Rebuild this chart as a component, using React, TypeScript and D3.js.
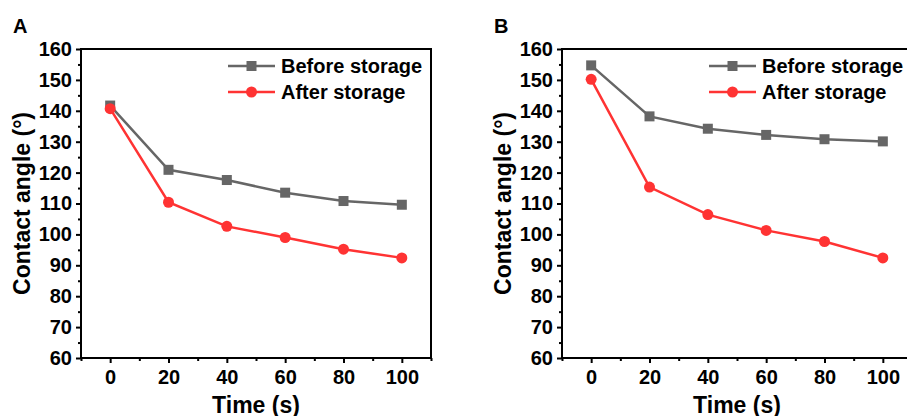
import React, { useEffect, useRef } from "react";
import * as d3 from "d3";

const times = [0, 20, 40, 60, 80, 100];
const beforeA = [141.7, 120.9, 117.6, 113.5, 110.8, 109.6];
const afterA = [140.7, 110.4, 102.6, 99.0, 95.2, 92.4];
const beforeB = [154.7, 138.2, 134.2, 132.2, 130.8, 130.1];
const afterB = [150.2, 115.3, 106.4, 101.3, 97.7, 92.4];
const yTicks = [60, 70, 80, 90, 100, 110, 120, 130, 140, 150, 160];
const seriesNames = ["Before storage", "After storage"];

const GRAY = "#666666";
const RED = "#ff3333";
const FONT = "'Liberation Sans', Arial, sans-serif";

function drawPanel(g, left, label, before, after) {
    // plot area
    var top = 49, bottom = 358, w = 350;
    var x = d3.scaleLinear().domain([-10, 110]).range([left, left + w]);
    var y = d3.scaleLinear().domain([60, 160]).range([bottom, top]);

    var panel = g.append("g");

    // frame
    panel.append("rect")
        .attr("x", left).attr("y", top)
        .attr("width", w).attr("height", bottom - top)
        .attr("fill", "none").attr("stroke", "#000").attr("stroke-width", 2);

    // x axis
    var xAxis = panel.append("g").attr("transform", `translate(0, ${bottom})`)
        .call(d3.axisBottom(x).tickValues(times).tickSize(5).tickPadding(7));
    xAxis.select(".domain").remove();
    xAxis.selectAll("line").attr("stroke-width", 2);
    xAxis.selectAll("text").style("font-family", FONT).style("font-size", "20px")
        .style("font-weight", "bold").attr("fill", "#000");
    panel.append("g").attr("transform", `translate(0, ${bottom})`)
        .call(d3.axisBottom(x).tickValues([-10, 10, 30, 50, 70, 90, 110]).tickSize(3).tickFormat(() => ""))
        .call(s => s.select(".domain").remove())
        .selectAll("line").attr("stroke-width", 2);

    // y axis
    var yAxis = panel.append("g").attr("transform", `translate(${left}, 0)`)
        .call(d3.axisLeft(y).tickValues(yTicks).tickSize(5).tickPadding(4));
    yAxis.select(".domain").remove();
    yAxis.selectAll("line").attr("stroke-width", 2);
    yAxis.selectAll("text").style("font-family", FONT).style("font-size", "20px")
        .style("font-weight", "bold").attr("fill", "#000");
    panel.append("g").attr("transform", `translate(${left}, 0)`)
        .call(d3.axisLeft(y).tickValues(d3.range(65, 160, 10)).tickSize(3).tickFormat(() => ""))
        .call(s => s.select(".domain").remove())
        .selectAll("line").attr("stroke-width", 2);

    // axis titles
    panel.append("text")
        .attr("x", (left + left + w) / 2).attr("y", 413)
        .attr("text-anchor", "middle")
        .style("font-family", FONT).style("font-size", "23px").style("font-weight", "bold")
        .text("Time (s)");
    panel.append("text")
        .attr("transform", `translate(${left - 51}, ${(top + bottom) / 2}) rotate(-90)`)
        .attr("text-anchor", "middle")
        .style("font-family", FONT).style("font-size", "23px").style("font-weight", "bold")
        .text("Contact angle (°)");

    // panel letter
    panel.append("text")
        .attr("x", left - 68).attr("y", 33)
        .style("font-family", FONT).style("font-size", "20px").style("font-weight", "bold")
        .text(label);

    var line = d3.line().x((d, i) => x(times[i])).y(d => y(d));

    // before storage
    panel.append("path").datum(before).attr("d", line)
        .attr("fill", "none").attr("stroke", GRAY).attr("stroke-width", 2.5);
    panel.selectAll(".sq").data(before).join("rect").attr("class", "sq")
        .attr("x", (d, i) => x(times[i]) - 5).attr("y", d => y(d) - 5)
        .attr("width", 10).attr("height", 10).attr("fill", GRAY);

    // after storage
    panel.append("path").datum(after).attr("d", line)
        .attr("fill", "none").attr("stroke", RED).attr("stroke-width", 2.5);
    panel.selectAll(".dot").data(after).join("circle").attr("class", "dot")
        .attr("cx", (d, i) => x(times[i])).attr("cy", d => y(d))
        .attr("r", 5.5).attr("fill", RED);

    // legend
    var lx = left + 147;
    var leg = [{ name: seriesNames[0], color: GRAY, y: 66, sq: true }, { name: seriesNames[1], color: RED, y: 92, sq: false }];
    leg.forEach(item => {
        panel.append("line").attr("x1", lx).attr("x2", lx + 47)
            .attr("y1", item.y).attr("y2", item.y)
            .attr("stroke", item.color).attr("stroke-width", 2.5);
        if (item.sq) {
            panel.append("rect").attr("x", lx + 23.5 - 5).attr("y", item.y - 5)
                .attr("width", 10).attr("height", 10).attr("fill", item.color);
        } else {
            panel.append("circle").attr("cx", lx + 23.5).attr("cy", item.y)
                .attr("r", 5.5).attr("fill", item.color);
        }
        panel.append("text").attr("x", lx + 53).attr("y", item.y + 7)
            .style("font-family", FONT).style("font-size", "20px").style("font-weight", "bold")
            .text(item.name);
    });
}

export default function App() {
    const ref = useRef(null);
    useEffect(() => {
        var svg = d3.select(ref.current);
        svg.selectAll("*").remove();
        var g = svg.append("g");
        drawPanel(g, 81, "A", beforeA, afterA);
        drawPanel(g, 562, "B", beforeB, afterB);
    }, []);
    return (
        <svg ref={ref} width={907} height={416}
            style={{ position: "absolute", left: 0, top: 0, background: "#fff" }} />
    );
}
